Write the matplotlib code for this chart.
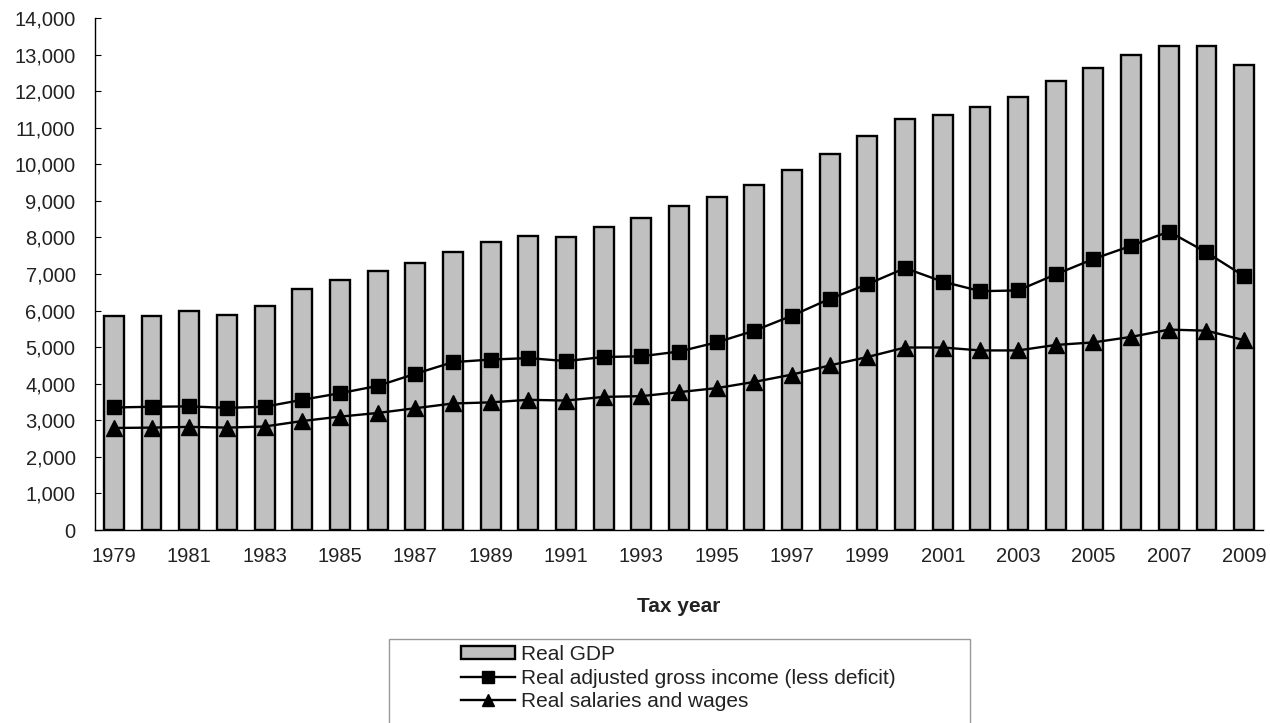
import numpy as np
import matplotlib
matplotlib.use('Agg')
import matplotlib.pyplot as plt
from matplotlib.patches import Rectangle
from matplotlib.ticker import FuncFormatter

plt.rcParams['font.family'] = ['Liberation Sans', 'DejaVu Sans']

years = list(range(1979, 2010))
gdp = [5855, 5839, 5987, 5871, 6136, 6577, 6849, 7087, 7313, 7614,
       7886, 8034, 8015, 8287, 8523, 8871, 9094, 9434, 9854, 10284,
       10780, 11226, 11347, 11553, 11841, 12264, 12638, 12976, 13229, 13229,
       12703]
agi = [3350, 3370, 3380, 3340, 3370, 3560, 3740, 3940, 4270, 4590,
       4660, 4700, 4620, 4730, 4750, 4880, 5130, 5450, 5860, 6320,
       6720, 7160, 6790, 6530, 6550, 6990, 7410, 7770, 8160, 7590,
       6940]
wages = [2790, 2800, 2820, 2800, 2830, 2980, 3100, 3200, 3330, 3460,
         3490, 3560, 3540, 3640, 3660, 3770, 3880, 4050, 4250, 4500,
         4730, 4990, 4990, 4910, 4910, 5060, 5130, 5280, 5480, 5450,
         5190]

x = np.arange(len(years))

fig = plt.figure(figsize=(12.7, 7.23), dpi=100)
ax = fig.add_axes([0.0748, 0.2669, 0.9197, 0.7083])

bars = ax.bar(x, gdp, width=0.53, color='#c0c0c0', edgecolor='black',
              linewidth=1.7, label='Real GDP', zorder=2)
l1, = ax.plot(x, agi, color='black', lw=1.7, marker='s', markersize=10,
              label='Real adjusted gross income (less deficit)', zorder=3)
l2, = ax.plot(x, wages, color='black', lw=1.7, marker='^', markersize=11,
              label='Real salaries and wages', zorder=3)

ax.set_xlim(-0.5, len(years) - 0.5)
ax.set_ylim(0, 14000)
ax.set_yticks(range(0, 14001, 1000))
ax.yaxis.set_major_formatter(FuncFormatter(lambda v, p: f'{int(v):,}'))
ax.set_xticks(x[::2])
ax.set_xticklabels([str(y) for y in years[::2]])

for s in ['top', 'right']:
    ax.spines[s].set_visible(False)
ax.spines['left'].set_linewidth(1.0)
ax.spines['bottom'].set_linewidth(1.0)
ax.tick_params(axis='y', direction='in', length=4, width=0.8, pad=14,
               labelsize=14.5, labelcolor='#222222')
ax.tick_params(axis='x', length=0, pad=12, labelsize=14.5,
               labelcolor='#222222')

fig.text(0.5347, 1 - 607 / 723, 'Tax year', ha='center', va='center',
         fontsize=15, fontweight='bold', color='#222222')

# legend frame running off the bottom edge
fig.patches.append(Rectangle((389 / 1270, -0.05), (970 - 389) / 1270,
                             0.05 + (723 - 639) / 723,
                             transform=fig.transFigure, fill=False,
                             edgecolor='#999999', linewidth=1.0))
leg = fig.legend(handles=[bars, l1, l2], loc='upper left',
                 bbox_to_anchor=(461 / 1270, 1 - 645 / 723), frameon=False,
                 fontsize=15, handlelength=2.6, handletextpad=0.3,
                 handleheight=0.6, labelspacing=0.22, borderpad=0,
                 borderaxespad=0, markerscale=0.85)
for t in leg.get_texts():
    t.set_color('#222222')

fig.savefig('out.png', dpi=100)
